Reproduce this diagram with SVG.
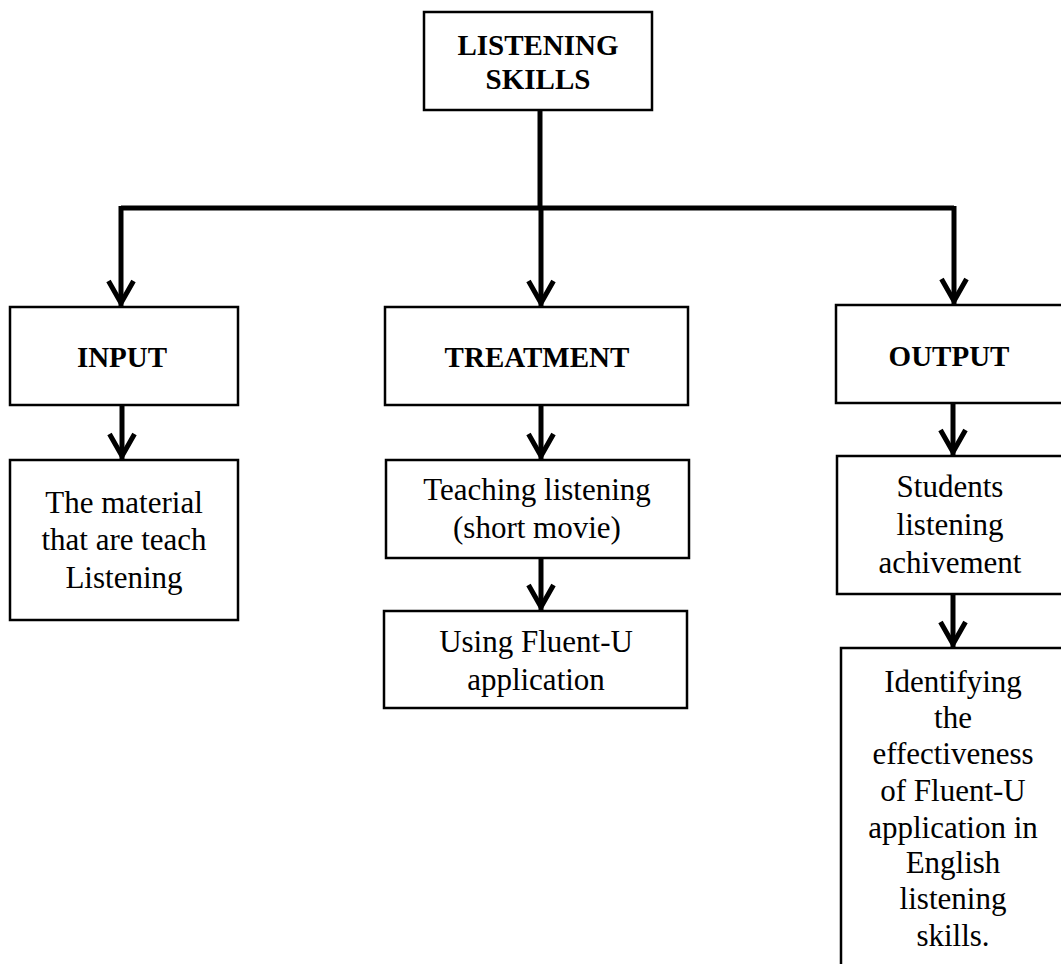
<svg xmlns="http://www.w3.org/2000/svg" width="1061" height="964" viewBox="0 0 1061 964">
<style>
.box{fill:#fff;stroke:#000;stroke-width:2.5}
.t{font-family:"Liberation Serif","Times New Roman",serif;font-size:31px;fill:#000;text-anchor:middle}
.b{font-family:"Liberation Serif","Times New Roman",serif;font-size:29px;font-weight:bold;fill:#000;text-anchor:middle}
.c{fill:none;stroke:#000;stroke-width:5}
</style>
<defs>
<marker id="ah" markerUnits="userSpaceOnUse" markerWidth="40" markerHeight="40" viewBox="-30 -20 40 40" refX="0" refY="0" orient="auto" overflow="visible">
<path d="M-25,-12.5 L-3,0 L-25,12.5" fill="none" stroke="#000" stroke-width="5" stroke-linejoin="round"/>
</marker>
</defs>
<rect width="1061" height="964" fill="#fff"/>
<g id="connectors">
<path class="c" d="M540,110 V208"/>
<path class="c" d="M121,208 H954"/>
<path class="c" d="M121,206 V306" marker-end="url(#ah)"/>
<path class="c" d="M541,208 V306" marker-end="url(#ah)"/>
<path class="c" d="M954,206 V304" marker-end="url(#ah)"/>
<path class="c" d="M122,405 V459" marker-end="url(#ah)"/>
<path class="c" d="M541,405 V459" marker-end="url(#ah)"/>
<path class="c" d="M541,558 V610" marker-end="url(#ah)"/>
<path class="c" d="M953,403 V455" marker-end="url(#ah)"/>
<path class="c" d="M953,594 V647" marker-end="url(#ah)"/>
</g>
<g id="listening-skills">
<rect class="box" x="424" y="12" width="228" height="98"/>
<text class="b" x="538" y="55">LISTENING</text>
<text class="b" x="538" y="89">SKILLS</text>
</g>
<g id="input">
<rect class="box" x="10" y="307" width="228" height="98"/>
<text class="b" x="122" y="367">INPUT</text>
</g>
<g id="material">
<rect class="box" x="10" y="460" width="228" height="160"/>
<text class="t" x="124" y="513">The material</text>
<text class="t" x="124" y="550">that are teach</text>
<text class="t" x="124" y="588">Listening</text>
</g>
<g id="treatment">
<rect class="box" x="385" y="307" width="303" height="98"/>
<text class="b" x="537" y="367">TREATMENT</text>
</g>
<g id="teaching">
<rect class="box" x="386" y="460" width="303" height="98"/>
<text class="t" x="537" y="500">Teaching listening</text>
<text class="t" x="537" y="538">(short movie)</text>
</g>
<g id="fluent">
<rect class="box" x="384" y="611" width="303" height="97"/>
<text class="t" x="536" y="652">Using Fluent-U</text>
<text class="t" x="536" y="690">application</text>
</g>
<g id="output">
<rect class="box" x="836" y="305" width="240" height="98"/>
<text class="b" x="949" y="366">OUTPUT</text>
</g>
<g id="students">
<rect class="box" x="837" y="456" width="240" height="138"/>
<text class="t" x="950" y="497">Students</text>
<text class="t" x="950" y="535">listening</text>
<text class="t" x="950" y="573">achivement</text>
</g>
<g id="identifying">
<rect class="box" x="841" y="648" width="240" height="330"/>
<text class="t" x="953" y="692">Identifying</text>
<text class="t" x="953" y="728">the</text>
<text class="t" x="953" y="764">effectiveness</text>
<text class="t" x="953" y="801">of Fluent-U</text>
<text class="t" x="953" y="838">application in</text>
<text class="t" x="953" y="873">English</text>
<text class="t" x="953" y="909">listening</text>
<text class="t" x="953" y="946">skills.</text>
</g>
</svg>
